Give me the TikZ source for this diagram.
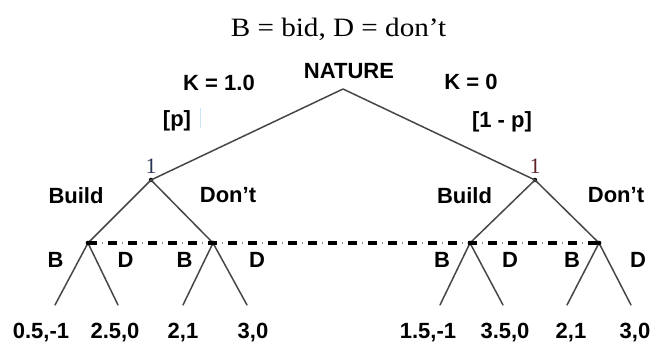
\documentclass[tikz,border=0pt]{standalone}
\usepackage{fontspec}
\setmainfont{Liberation Serif}
\setsansfont{Liberation Sans}
\begin{document}
\begin{tikzpicture}[x=1pt,y=-1pt,
  lbl/.style={font=\sffamily\bfseries\fontsize{22}{24}\selectfont, anchor=base, inner sep=0pt},
  plr/.style={font=\rmfamily\fontsize{22}{24}\selectfont, anchor=base, inner sep=0pt},
  dec/.style={circle, fill=black, inner sep=0pt, minimum size=4.5pt},
  edge/.style={draw=black!72, line width=1.5pt, line join=round, line cap=round},
  infoset/.style={draw=black, line width=4pt, dash pattern=on 9pt off 11pt},
  infodots/.style={draw=black!45, line width=1.2pt, dash pattern=on 1.2pt off 18.8pt, dash phase=6pt},
  ]
\useasboundingbox (0,0) rectangle (652,342);
% title
\node[font=\rmfamily\fontsize{26.5}{28}\selectfont, anchor=base, inner sep=0pt] (title) at (338.5,37) {\scalebox{1.1}[1]{B = bid, D = don’t}};
% nature
\coordinate (N) at (343,89);
\node[lbl] (nature) at (349,79) {NATURE};
\node[lbl] (k1) at (219,91) {K = 1.0};
\node[lbl] (k0) at (471,90) {K = 0};
\node[lbl] (p) at (177,126) {[p]};
\node[lbl] (q) at (502,127) {[1 - p]};
\draw[draw={rgb,255:red,205;green,228;blue,242}, line width=1pt] (200,108) -- (200,128);
% player 1 nodes
\node[dec] (L1) at (151,180) {};
\node[dec] (R1) at (535,180) {};
\node[plr, text={rgb,255:red,40;green,52;blue,85}] (l1lab) at (151,173) {1};
\node[plr, text={rgb,255:red,95;green,35;blue,35}] (r1lab) at (535,173) {1};
% second level
\node[dec] (LB) at (88,243) {};
\node[dec] (LD) at (213,243) {};
\node[dec] (RB) at (470,243) {};
\node[dec] (RD) at (599,243) {};
% leaves
\coordinate (a1) at (55,305);
\coordinate (a2) at (118,305);
\coordinate (a3) at (183,305);
\coordinate (a4) at (247,305);
\coordinate (a5) at (440,305);
\coordinate (a6) at (503,305);
\coordinate (a7) at (567,305);
\coordinate (a8) at (631,305);
% edges
\draw[edge] (L1.center) -- (N) -- (R1.center);
\draw[edge] (LB.center) -- (L1.center) -- (LD.center);
\draw[edge] (RB.center) -- (R1.center) -- (RD.center);
\draw[edge] (a1) -- (LB.center) -- (a2);
\draw[edge] (a3) -- (LD.center) -- (a4);
\draw[edge] (a5) -- (RB.center) -- (a6);
\draw[edge] (a7) -- (RD.center) -- (a8);
% information set
\draw[infoset] (LB.center) -- (RD.center);
\draw[infodots] (LB.center) -- (RD.center);
\node[dec] at (LB) {};
\node[dec] at (LD) {};
\node[dec] at (RB) {};
\node[dec] at (RD) {};
% action labels
\node[lbl] (bl) at (76,203) {Build};
\node[lbl] (dl) at (228,202) {Don’t};
\node[lbl] (br) at (464.5,203) {Build};
\node[lbl] (dr) at (616,202) {Don’t};
\node[lbl] (b1) at (55.5,267) {B};
\node[lbl] (d1) at (125.5,267) {D};
\node[lbl] (b2) at (184.5,267) {B};
\node[lbl] (d2) at (257,267) {D};
\node[lbl] (b3) at (442,267) {B};
\node[lbl] (d3) at (510,267) {D};
\node[lbl] (b4) at (572,267) {B};
\node[lbl] (d4) at (638,267) {D};
% payoffs
\node[lbl] (u1) at (41,338) {0.5,-1};
\node[lbl] (u2) at (115,338) {2.5,0};
\node[lbl] (u3) at (183,338) {2,1};
\node[lbl] (u4) at (253,338) {3,0};
\node[lbl] (u5) at (428,338) {1.5,-1};
\node[lbl] (u6) at (505,338) {3.5,0};
\node[lbl] (u7) at (571,338) {2,1};
\node[lbl] (u8) at (635,338) {3,0};
\end{tikzpicture}
\end{document}
